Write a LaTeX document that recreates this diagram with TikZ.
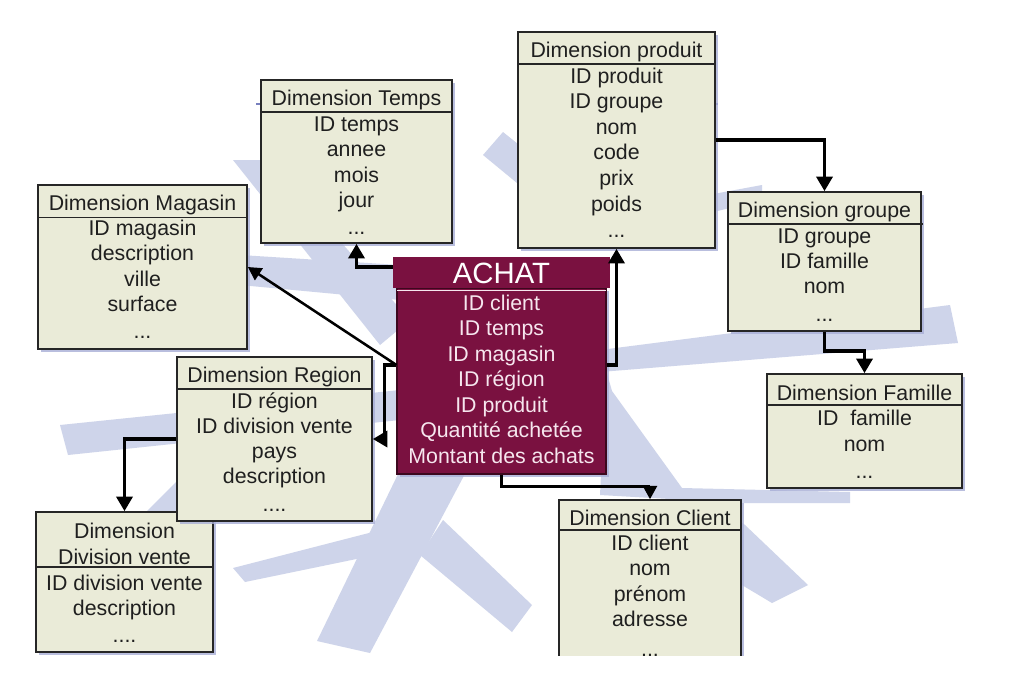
\documentclass[tikz,border=0pt]{standalone}
\usepackage{fontspec}
\setmainfont{Liberation Sans}
\usetikzlibrary{arrows.meta,shadows,fit}
\definecolor{boxfill}{RGB}{234,235,216}
\definecolor{boxborder}{RGB}{38,38,38}
\definecolor{achatc}{RGB}{122,17,64}
\definecolor{achatline}{RGB}{60,8,30}
\definecolor{achattxt}{RGB}{246,230,238}
\definecolor{bgblue}{RGB}{206,212,234}
\definecolor{shadowc}{RGB}{168,174,214}
\definecolor{thinline}{RGB}{120,128,190}
\newcommand\drows[6][]{\foreach \rowtxt [count=\ri] in {#6}{\node[rowtext,#1] (#2-\ri) at (#3,{#4+(\ri-1)*#5}) {\rowtxt};}}
\begin{document}
\begin{tikzpicture}[x=0.75pt,y=-0.75pt,
  dimbox/.style={draw=boxborder,line width=1.2pt,fill=boxfill,inner sep=0pt,
    drop shadow={shadow xshift=2.5pt,shadow yshift=-2.5pt,fill=shadowc,opacity=0.8}},
  hline/.style={draw=boxborder,line width=1.1pt},
  rowtext/.style={anchor=base,inner sep=0pt,font=\fontsize{16}{19}\selectfont,text=black!88},
  conn/.style={line width=2.8pt,-{Triangle[length=11pt,width=12pt]}},
  thinconn/.style={line width=1.9pt,-{Triangle[length=10pt,width=10.5pt]}},
  bg/.style={fill=bgblue}]
\useasboundingbox (0,0) rectangle (1030,696);
\fill[white] (0,0) rectangle (1030,696);
\begin{scope}
\clip (0,0) rectangle (1030,655.5);
% background logo
\fill[bg] (233,160) -- (268,160) -- (410,320) -- (380,345) -- cycle;
\fill[bg] (240,255) -- (400,265) -- (400,300) -- (240,285) -- cycle;
\fill[bg] (60,425) -- (400,390) -- (400,420) -- (68,455) -- cycle;
\fill[bg] (147,511) -- (260,398) -- (285,420) -- (165,540) -- cycle;
\fill[bg] (233,568) -- (400,525) -- (400,550) -- (245,582) -- cycle;
\fill[bg] (400,470) -- (467,470) -- (370,653) -- (317,641) -- cycle;
\fill[bg] (443,520) -- (532,605) -- (512,632) -- (420,555) -- cycle;
\fill[bg] (600,350) -- (950,305) -- (958,343) -- (600,372) -- cycle;
\fill[bg] (606,370) -- (612,391) -- (682,488) -- (850,492) -- (850,503) -- (740,503) -- (600,495) -- cycle;
\fill[bg] (700,490) -- (745,525) -- (808,585) -- (772,603) -- (700,560) -- cycle;
\fill[bg] (483,155) -- (503,132) -- (600,210) -- (580,235) -- cycle;
\fill[bg] (600,215) -- (762,185) -- (762,200) -- (600,240) -- cycle;
\draw[thinline,line width=0.9pt] (256,104) -- (452,104);
\draw[thinline,line width=0.9pt] (518,104) -- (718,104);
% Dimension Temps
\node[dimbox,fit={(261,80) (452,243)}] (tps) {};
\draw[hline] (261,112) -- (452,112);
\node[rowtext] (tps-t) at (356.5,105) {Dimension Temps};
\drows{tps}{356.5}{131}{25.6}{ID temps,annee,mois,jour}
\node[rowtext] (tps-d) at (356.5,234) {...};
% Dimension produit
\node[dimbox,fit={(518,32) (715,248)}] (prod) {};
\draw[hline] (518,64) -- (715,64);
\node[rowtext] (prod-t) at (616.5,57) {Dimension produit};
\drows{prod}{616.5}{83}{25.6}{ID produit,ID groupe,nom,code,prix,poids}
\node[rowtext] (prod-d) at (616.5,237) {...};
% Dimension Magasin
\node[dimbox,fit={(38,185) (247,349)}] (mag) {};
\draw[hline] (38,217.5) -- (247,217.5);
\node[rowtext] (mag-t) at (142.5,210.5) {Dimension Magasin};
\drows{mag}{142.5}{235}{25.6}{ID magasin,description,ville,surface}
\node[rowtext] (mag-d) at (142.5,338) {...};
% Dimension groupe
\node[dimbox,fit={(728,192) (921,331)}] (grp) {};
\draw[hline] (728,224) -- (923,224);
\node[rowtext] (grp-t) at (824.5,217) {Dimension groupe};
\drows{grp}{824.5}{243}{25.4}{ID groupe,ID famille,nom}
\node[rowtext] (grp-d) at (824.5,321) {...};
% Dimension Famille
\node[dimbox,fit={(767,374) (962,488)}] (fam) {};
\draw[hline] (767,405) -- (962,405);
\node[rowtext] (fam-t) at (864.5,400) {Dimension Famille};
\drows{fam}{864.5}{425.5}{25.8}{{ID\ \ famille},nom}
\node[rowtext] (fam-d) at (864.5,478) {...};
% Dimension Division vente
\node[dimbox,fit={(36,512) (213,652)}] (div) {};
\draw[hline] (36,567) -- (213,567);
\node[rowtext] (div-t1) at (124.5,538) {Dimension};
\node[rowtext] (div-t2) at (124.5,564) {Division vente};
\drows{div}{124.5}{590}{25}{ID division vente,description}
\node[rowtext] (div-d) at (124.5,642) {....};
% Dimension Region
\node[dimbox,fit={(177,357) (372,521)}] (reg) {};
\draw[hline] (177,389) -- (372,389);
\node[rowtext] (reg-t) at (274.5,382) {Dimension Region};
\drows{reg}{274.5}{408}{25.3}{ID région,ID division vente,pays,description}
\node[rowtext] (reg-d) at (274.5,511) {....};
% Dimension Client
\node[dimbox,fit={(559,500) (741,672)}] (cli) {};
\draw[hline] (559,530) -- (741,530);
\node[rowtext] (cli-t) at (650,525) {Dimension Client};
\drows{cli}{650}{550}{25.6}{ID client,nom,prénom,adresse}
\node[rowtext] (cli-d) at (650,656) {...};
% ACHAT
\node[fill=achatc,draw=achatline,line width=0.8pt,inner sep=0pt,fit={(397,288) (606,474)},
  drop shadow={shadow xshift=2.5pt,shadow yshift=-2.5pt,fill=shadowc,opacity=0.8}] (achat) {};
\node[fill=achatc,inner sep=0pt,fit={(393,257) (610,288)}] (achat-h) {};
\draw[achattxt,line width=1pt] (397,290.5) -- (606,290.5);
\node[rowtext,text=white,font=\fontsize{22}{26}\selectfont] (achat-t) at (501.5,283) {ACHAT};
\drows[text=achattxt]{ach}{501.5}{310}{25.5}{ID client,ID temps,ID magasin,ID région,ID produit,Quantité achetée,Montant des achats}
% connectors
\draw[conn] ([yshift=4pt]achat-h.west) -| (tps.south);
\draw[thinconn] ([yshift=12pt]achat.west) -- (mag.east);
\draw[conn] ([yshift=12pt]achat.west) -- ++(-12,0) |- (reg.east);
\draw[conn] ([yshift=12pt]achat.east) -| (prod.south);
\draw[conn] (prod.east) -| (grp.north);
\draw[conn] (grp.south) -- ++(0,19) -| (fam.north);
\draw[thinconn] (achat.south) -- ++(0,12) -| (cli.north);
\draw[conn] (reg.west) -| (div.north);
\end{scope}
\end{tikzpicture}
\end{document}
